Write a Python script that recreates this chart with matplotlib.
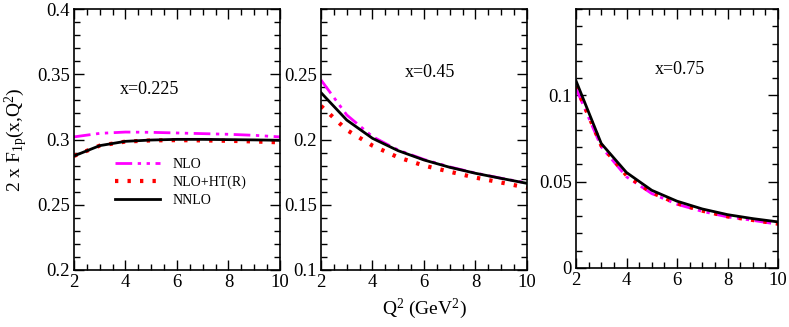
import matplotlib
matplotlib.use("Agg")
import matplotlib.pyplot as plt
from matplotlib.ticker import MultipleLocator

plt.rcParams['font.family'] = ['Liberation Serif', 'DejaVu Serif']
plt.rcParams['mathtext.fontset'] = 'custom'
plt.rcParams['mathtext.rm'] = 'Liberation Serif'
plt.rcParams['mathtext.it'] = 'Liberation Serif'

Q2 = [2, 3, 4, 5, 6, 7, 8, 9, 10]

# x = 0.225
nlo_225 = [0.3020, 0.3047, 0.3057, 0.3055, 0.3050, 0.3045, 0.3040, 0.3032, 0.3020]
ht_225 = [0.2874, 0.2953, 0.2984, 0.2993, 0.2995, 0.2993, 0.2990, 0.2985, 0.2978]
nnlo_225 = [0.2874, 0.2953, 0.2986, 0.2996, 0.3001, 0.3001, 0.2999, 0.2997, 0.2994]

# x = 0.45
nlo_45 = [0.2456, 0.2188, 0.2022, 0.1919, 0.1847, 0.1790, 0.1743, 0.1703, 0.1667]
ht_45 = [0.2257, 0.2073, 0.1953, 0.1863, 0.1800, 0.1753, 0.1708, 0.1670, 0.1631]
nnlo_45 = [0.2359, 0.2149, 0.2009, 0.1914, 0.1843, 0.1787, 0.1741, 0.1702, 0.1664]

# x = 0.75
nlo_75 = [0.1040, 0.0702, 0.0528, 0.0431, 0.0369, 0.0328, 0.0296, 0.0276, 0.0253]
ht_75 = [0.1053, 0.0711, 0.0537, 0.0437, 0.0375, 0.0332, 0.0299, 0.0278, 0.0257]
nnlo_75 = [0.1084, 0.0721, 0.0553, 0.0450, 0.0387, 0.0342, 0.0309, 0.0286, 0.0267]

labels = ["NLO", "NLO+HT(R)", "NNLO"]
panel_text = ["x=0.225", "x=0.45", "x=0.75"]

fig = plt.figure(figsize=(7.89, 3.27), dpi=100)
rects = [
    [74/789, 1-270/327, 206/789, 261/327],
    [321/789, 1-270/327, 206/789, 261/327],
    [576/789, 1-268/327, 202/789, 259/327],
]
ylims = [(0.2, 0.4), (0.1, 0.3), (0.0, 0.15)]
yticks = [[0.2, 0.25, 0.3, 0.35, 0.4], [0.1, 0.15, 0.2, 0.25], [0, 0.05, 0.1]]
yticklabels = [["0.2", "0.25", "0.3", "0.35", "0.4"], ["0.1", "0.15", "0.2", "0.25"], ["0", "0.05", "0.1"]]
datasets = [(nlo_225, ht_225, nnlo_225), (nlo_45, ht_45, nnlo_45), (nlo_75, ht_75, nnlo_75)]
text_pos = [(4.95, 0.338), (6.23, 0.2517), (6.12, 0.1147)]

axes = []
for i in range(3):
    ax = fig.add_axes(rects[i])
    nlo, ht, nnlo = datasets[i]
    ax.plot(Q2, nlo, color='magenta', lw=2, dashes=[6, 2, 1.2, 2, 1.2, 2], label=labels[0])
    ax.plot(Q2, ht, color='red', lw=3, linestyle=(0, (0.8, 2.2)), label=labels[1])
    ax.plot(Q2, nnlo, color='black', lw=2, label=labels[2])
    ax.set_xlim(2, 10)
    ax.set_ylim(*ylims[i])
    ax.set_xticks([2, 4, 6, 8, 10])
    ax.set_xticklabels(["2", "4", "6", "8", "10"])
    ax.xaxis.set_minor_locator(MultipleLocator(0.5))
    ax.set_yticks(yticks[i])
    ax.set_yticklabels(yticklabels[i])
    ax.yaxis.set_minor_locator(MultipleLocator(0.01))
    ax.tick_params(which='both', direction='in', top=True, right=True, labelsize=13.5, width=1)
    ax.tick_params(which='major', length=7, pad=3)
    ax.tick_params(which='minor', length=4)
    for s in ax.spines.values():
        s.set_linewidth(1.2)
    ax.text(text_pos[i][0], text_pos[i][1], panel_text[i], ha='center', va='center', fontsize=13)
    axes.append(ax)

axes[0].set_ylabel(r"2 x F$_{1p}$(x,Q$^2$)", fontsize=14, labelpad=5)
axes[1].set_xlabel(r"Q$^2$ (GeV$^2$)", fontsize=14, labelpad=4)
axes[0].legend(loc='upper left', bbox_to_anchor=(0.172, 0.452), frameon=False, fontsize=10,
               handlelength=3.24, handletextpad=0.93, labelspacing=0.35, borderaxespad=0)

fig.savefig("out.png", dpi=100)
